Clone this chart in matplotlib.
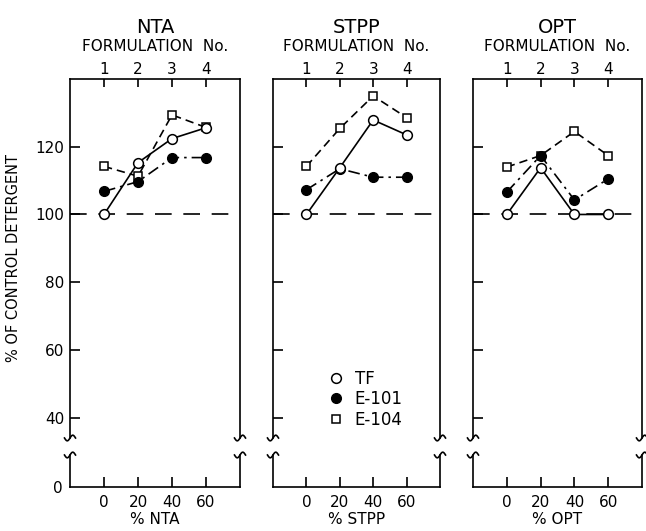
import matplotlib
matplotlib.use('Agg')
import matplotlib.pyplot as plt
import matplotlib.transforms as mtransforms
from matplotlib.lines import Line2D
import numpy as np

plt.rcParams['font.family'] = ['DejaVu Sans']

# ---------------- data ----------------
pct = [0, 20, 40, 60]
formulation_labels = ['1', '2', '3', '4']
builders = ['NTA', 'STPP', 'OPT']
series_names = ['TF', 'E-101', 'E-104']

nta_tf = [100, 115.3, 122.4, 125.6]
nta_e101 = [106.8, 109.7, 116.8, 116.8]
nta_e104 = [114.2, 111.3, 129.4, 125.7]

stpp_tf = [100, 113.8, 127.9, 123.5]
stpp_e101 = [107.3, 113.5, 111.0, 111.0]
stpp_e104 = [114.2, 125.4, 135.0, 128.6]

opt_tf = [100, 113.8, 100, 100]
opt_e101 = [106.6, 117.4, 104.3, 110.5]
opt_e104 = [114.0, 117.4, 124.5, 117.4]

upper_yticks = [40, 60, 80, 100, 120]
lower_yticks = [0]
reference_level = 100

panel_data = [
    (nta_tf, nta_e101, nta_e104),
    (stpp_tf, stpp_e101, stpp_e104),
    (opt_tf, opt_e101, opt_e104),
]

# ---------------- layout ----------------
W, H = 646, 531
fig = plt.figure(figsize=(W / 100, H / 100), dpi=100)
panels_px = [(70, 240), (273, 440), (473, 642)]
up_top, up_bot = 79, 438
lo_top, lo_bot = 455, 487

LW = 1.2
styles = [
    dict(linestyle='-', marker='o', mfc='white', mec='black', ms=7, mew=1.1, zorder=5),
    dict(linestyle=(0, (7, 3, 1.5, 3)), marker='o', mfc='black', mec='black', ms=7, mew=1.0, zorder=4),
    dict(linestyle=(0, (5, 3)), marker='s', mfc='white', mec='black', ms=5.5, mew=1.1, zorder=3),
]


def squiggle(ax, xa, ya):
    t = np.linspace(-1, 1, 40)
    dx = t * 0.055
    dy = 0.028 * np.sin(np.pi * t)
    trans = fig.dpi_scale_trans + mtransforms.ScaledTranslation(xa, ya, ax.transAxes)
    fig.add_artist(Line2D(dx, dy, transform=trans, color='black', lw=LW, clip_on=False))


for i, (name, series) in enumerate(zip(builders, panel_data)):
    x0, x1 = panels_px[i]
    axu = fig.add_axes([x0 / W, 1 - up_bot / H, (x1 - x0) / W, (up_bot - up_top) / H])
    axl = fig.add_axes([x0 / W, 1 - lo_bot / H, (x1 - x0) / W, (lo_bot - lo_top) / H])

    for ax in (axu, axl):
        ax.set_xlim(-20, 80)
        for s in ax.spines.values():
            s.set_linewidth(LW)
    axu.set_ylim(34, 140)
    axl.set_ylim(0, 9.4)
    axu.spines['bottom'].set_visible(False)
    axl.spines['top'].set_visible(False)

    # reference line
    axu.axhline(reference_level, color='black', lw=LW, linestyle=(0, (10, 7)), zorder=1)

    for vals, lab, st in zip(series, series_names, styles):
        axu.plot(pct, vals, color='black', lw=LW, label=lab, **st)

    # top axis: formulation numbers
    axu.xaxis.tick_top()
    axu.set_xticks(pct)
    axu.set_xticklabels(formulation_labels)
    axu.tick_params(axis='x', direction='in', length=6, width=LW, pad=1.5, labelsize=11)
    axu.xaxis.set_label_position('top')
    axu.set_xlabel('FORMULATION  No.', fontsize=11, labelpad=8)
    axu.set_title(name, fontsize=14, pad=4)

    axu.set_yticks(upper_yticks)
    axu.tick_params(axis='y', direction='in', length=7, width=LW, pad=4, labelsize=11,
                    right=False, labelleft=(i == 0))

    axl.set_xticks(pct)
    axl.set_xticklabels([str(p) for p in pct])
    axl.tick_params(axis='x', direction='in', length=7, width=LW, pad=6, labelsize=11)
    axl.set_xlabel('% ' + name, fontsize=11, labelpad=1)
    axl.set_yticks(lower_yticks)
    axl.tick_params(axis='y', length=0, pad=5, labelsize=11, labelleft=(i == 0))

    for xa in (0, 1):
        squiggle(axu, xa, 0)
        squiggle(axl, xa, 1)

    if i == 0:
        axu.set_ylabel('% OF CONTROL DETERGENT', fontsize=10.5)
        axu.yaxis.set_label_coords(-0.29, 0.5)

    if i == 1:
        handles = [Line2D([], [], color='black', linestyle='none',
                          **{k: v for k, v in st.items() if k not in ('linestyle', 'zorder')})
                   for st in styles]
        axu.legend(handles, series_names, loc='upper left', bbox_to_anchor=(0.33, 0.19),
                   frameon=False, borderpad=0, borderaxespad=0, handlelength=1.0,
                   handletextpad=0.6, labelspacing=0.15, fontsize=12)

fig.savefig('out.png', dpi=100)
